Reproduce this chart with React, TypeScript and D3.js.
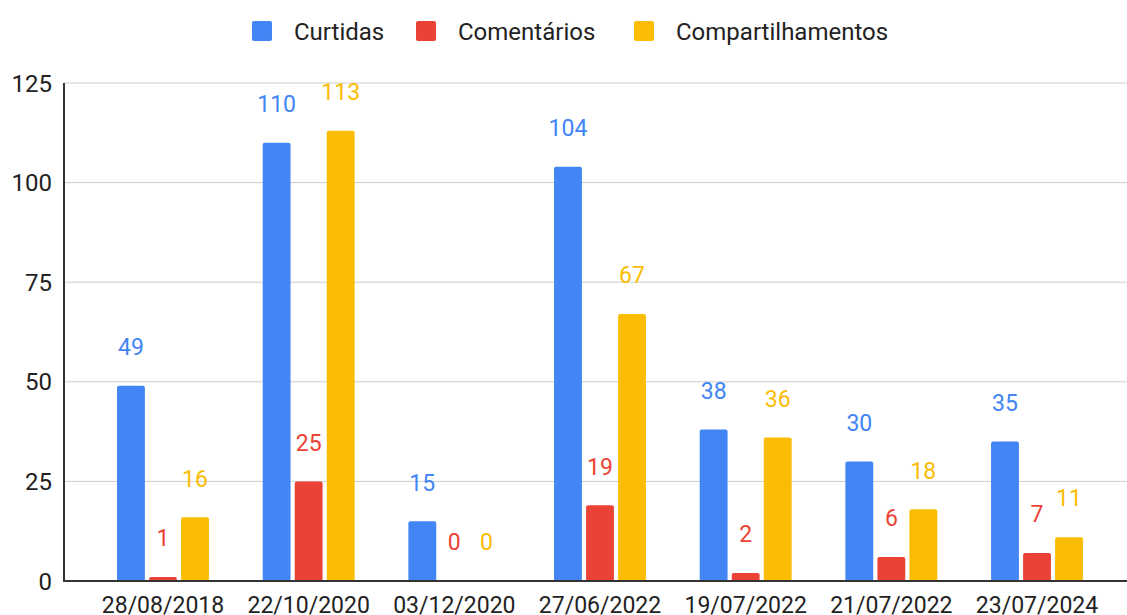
import React, { useRef, useEffect } from "react";
import * as d3 from "d3";

const dates = [
  "28/08/2018",
  "22/10/2020",
  "03/12/2020",
  "27/06/2022",
  "19/07/2022",
  "21/07/2022",
  "23/07/2024",
];
const series = ["Curtidas", "Comentários", "Compartilhamentos"];
const curtidas = [49, 110, 15, 104, 38, 30, 35];
const comentarios = [1, 25, 0, 19, 2, 6, 7];
const compartilhamentos = [16, 113, 0, 67, 36, 18, 11];
const yTicks = [0, 25, 50, 75, 100, 125];
const colors = ["#4285f4", "#ea4335", "#fbbc04"];

const App = () => {
  const ref = useRef<SVGSVGElement>(null);

  useEffect(() => {
    const svg = d3.select(ref.current);
    svg.selectAll("*").remove();
    const width = 1127;
    const font = "Roboto, Arial, sans-serif";

    const values = [curtidas, comentarios, compartilhamentos];

    const x = d3.scaleBand().domain(dates).range([64, 1136]).paddingInner(0.369).paddingOuter(0.364);
    const xs = d3.scaleBand().domain(series).range([0, x.bandwidth()]).paddingInner(0.13);
    const y = d3.scaleLinear().domain([0, 125]).range([581, 83]);

    // grid
    svg
      .selectAll("line.grid")
      .data(yTicks.filter((d) => d > 0))
      .join("line")
      .attr("x1", 64)
      .attr("x2", width)
      .attr("y1", (d) => y(d))
      .attr("y2", (d) => y(d))
      .attr("stroke", "#cccccc")
      .attr("stroke-width", 1);

    // y labels
    svg
      .selectAll("text.ytick")
      .data(yTicks)
      .join("text")
      .attr("x", 52)
      .attr("y", (d) => y(d))
      .attr("dy", "0.36em")
      .attr("text-anchor", "end")
      .attr("font-family", font)
      .attr("font-size", 24)
      .attr("fill", "#222")
      .text((d) => d);

    // bars + labels
    values.forEach((vals, si) => {
      const g = svg.append("g");
      g.selectAll("rect")
        .data(vals)
        .join("rect")
        .attr("x", (_, i) => x(dates[i])! + xs(series[si])!)
        .attr("y", (d) => y(d))
        .attr("width", xs.bandwidth())
        .attr("height", (d) => y(0) - y(d))
        .attr("rx", 2)
        .attr("fill", colors[si]);
      g.selectAll("text")
        .data(vals)
        .join("text")
        .attr("x", (_, i) => x(dates[i])! + xs(series[si])! + xs.bandwidth() / 2)
        .attr("y", (d) => y(d) - 39)
        .attr("dy", "0.36em")
        .attr("text-anchor", "middle")
        .attr("font-family", font)
        .attr("font-size", 23)
        .attr("fill", colors[si])
        .text((d) => d);
    });

    // axes lines
    svg.append("line").attr("x1", 64).attr("x2", 64).attr("y1", 83).attr("y2", 581.5).attr("stroke", "#333").attr("stroke-width", 2);
    svg.append("line").attr("x1", 63).attr("x2", width).attr("y1", 581).attr("y2", 581).attr("stroke", "#333").attr("stroke-width", 2);

    // x labels
    svg
      .selectAll("text.xtick")
      .data(dates)
      .join("text")
      .attr("x", (d) => x(d)! + x.bandwidth() / 2)
      .attr("y", 613)
      .attr("text-anchor", "middle")
      .attr("font-family", font)
      .attr("font-size", 23)
      .attr("fill", "#222")
      .text((d) => d);

    // legend
    const legendX = [252, 416, 634];
    series.forEach((s, i) => {
      svg.append("rect").attr("x", legendX[i]).attr("y", 21).attr("width", 20).attr("height", 20).attr("rx", 2).attr("fill", colors[i]);
      svg
        .append("text")
        .attr("x", legendX[i] + 42)
        .attr("y", 31)
        .attr("dy", "0.36em")
        .attr("font-family", font)
        .attr("font-size", 24)
        .attr("fill", "#222")
        .text(s);
    });
  });

  return (
    <svg
      ref={ref}
      width={1127}
      height={615}
      style={{ position: "fixed", left: 0, top: 0, background: "#fff" }}
    ></svg>
  );
};

export default App;
